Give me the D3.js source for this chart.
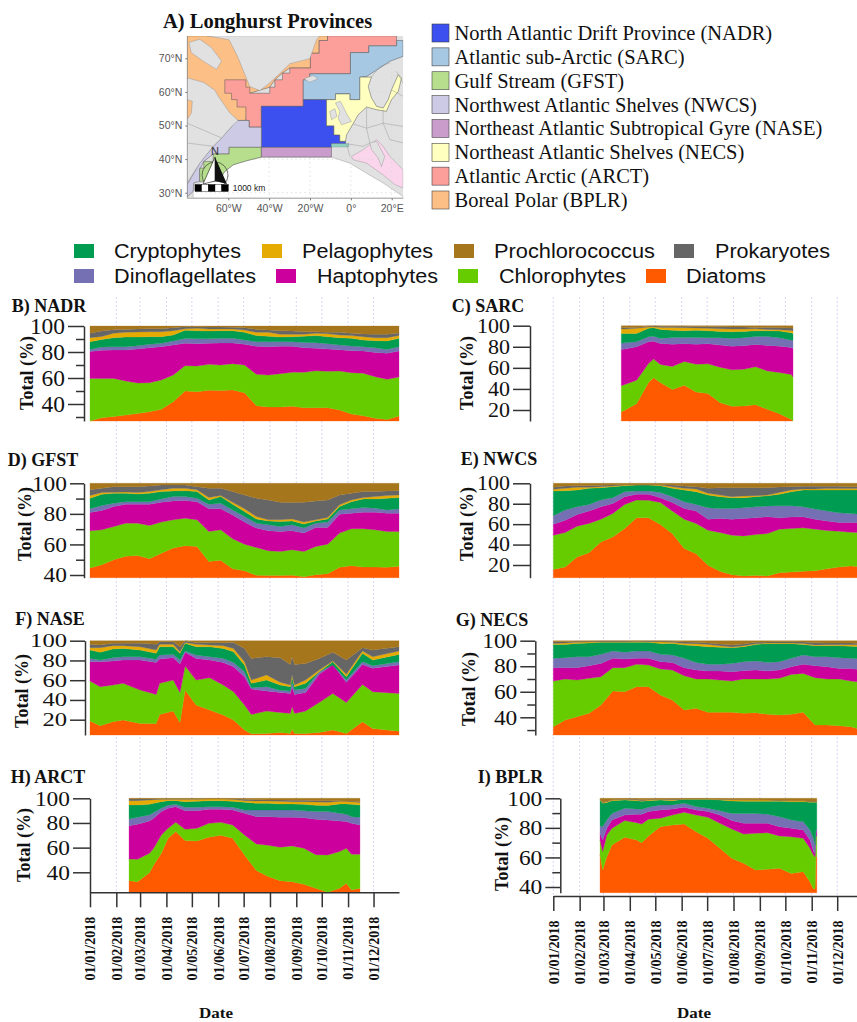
<!DOCTYPE html>
<html>
<head>
<meta charset="utf-8">
<script src="https://cdn.jsdelivr.net/npm/d3@7"></script>
<style>
  html, body { margin: 0; padding: 0; background: #fff; overflow: hidden; }
  svg { display: block; }
</style>
</head>
<body>
<div id="chart"></div>
<script>
// --------------------------------------
//  Data
//  Each array is the upper edge of a stacked band, in % total
// --------------------------------------

const groupNames = ["Diatoms", "Chlorophytes", "Haptophytes", "Dinoflagellates", "Cryptophytes", "Pelagophytes", "Prokaryotes", "Prochlorococcus"];
const groupColors = ["#ff5a00", "#66cc00", "#cc009c", "#7570b3", "#009c52", "#e6ab02", "#666666", "#a6761d"];

const monthStarts = [0, 1, 2, 3, 4, 5, 6, 7, 8, 9, 10, 11];

// days since 1 Jan 2018
const fortnightDays = [0, 14, 28, 42, 56, 70, 84, 98, 112, 126, 140, 154, 168, 182, 196, 210, 224, 238, 252, 266, 280, 294, 308, 322, 336, 350, 364];
const sarcDays = [80, 84, 98, 112, 118, 126, 140, 154, 168, 182, 196, 210, 224, 238, 252, 266, 280, 282];
const naseDays = [0, 12, 27, 39, 59, 78, 82, 98, 106, 112, 125, 141, 157, 169, 182, 190, 208, 224, 236, 238, 241, 254, 270, 286, 302, 321, 333, 364];
const arctDays = [46, 56, 70, 75, 84, 92, 101, 112, 126, 140, 154, 168, 182, 196, 210, 224, 238, 252, 266, 280, 294, 302, 308, 318];
const bplrDays = [55, 58, 63, 69, 84, 98, 104, 112, 126, 140, 154, 168, 182, 196, 210, 224, 238, 252, 266, 280, 294, 302, 306, 308, 309, 310];

const nadrDiatoms = [26.9, 29.5, 30.3, 31.5, 32.6, 34.1, 35.9, 41.8, 50, 49.5, 50.5, 50.3, 50.8, 48.7, 38.7, 37.7, 37.7, 38.2, 37.2, 37.2, 37.2, 35.4, 32.3, 31, 29, 28, 30.8];
const nadrChloro = [59.7, 59.7, 59.7, 57.7, 56.2, 56.4, 58.5, 62.3, 69.5, 69.2, 70.5, 70, 71, 70, 62.8, 62.3, 63.3, 64.4, 64.4, 65.6, 65.1, 65.4, 64.1, 63.6, 61, 59, 60.8];
const nadrHapto = [80.3, 81.3, 81.5, 81.5, 82.3, 83.3, 84.1, 85.4, 86.7, 86.4, 86.7, 86.9, 86.9, 85.9, 84.4, 84.1, 84.4, 84.4, 83.3, 82.8, 82.3, 81.8, 81, 80.8, 79.7, 79, 80.8];
const nadrDino = [82, 83.8, 84.1, 84.1, 84.9, 85.9, 86.7, 88.5, 90.3, 90.1, 90.1, 90.5, 90.5, 89.2, 87.9, 87.9, 87.9, 87.9, 87.4, 87.2, 86.4, 85.4, 84.6, 84.1, 83.3, 82, 84.1];
const nadrCrypto = [87.9, 89.7, 91, 91.5, 91.5, 91.8, 91.8, 93.1, 96.7, 96.4, 96.2, 96.4, 96.4, 95.1, 92.6, 92.1, 91.5, 91.8, 92.1, 92.6, 91.8, 91, 90.5, 89.2, 88.7, 88.5, 90.5];
const nadrPelago = [91, 92, 94.4, 95.1, 95.4, 95.6, 95.6, 96.4, 97.9, 98.2, 97.7, 97.7, 97.7, 96.9, 95.1, 95.1, 93.6, 93.6, 93.6, 94.4, 94.1, 93.1, 92.6, 91.8, 91, 91, 92.6];
const nadrProk = [94.4, 96.2, 97.2, 97.4, 97.7, 97.9, 97.9, 98.7, 99.5, 99.5, 99.2, 99.2, 99, 98.7, 97.4, 96.9, 96.4, 96.2, 95.6, 95.6, 95.1, 95.1, 94.4, 93.8, 93.6, 93.6, 94.6];

const sarcDiatoms = [18.1, 19.7, 26, 46, 50.5, 46, 39.4, 43.5, 37.1, 35.6, 27, 23.5, 23.8, 25.1, 20.6, 16.5, 11.1, 9.8];
const sarcChloro = [42.9, 44.1, 48.3, 64.1, 68.3, 63.2, 61.3, 66, 63.5, 63.8, 60.6, 58.1, 58.7, 61, 57.1, 55.6, 53.7, 51.4];
const sarcHapto = [77.5, 77.8, 80, 84.8, 85.2, 83.2, 82.5, 82.9, 82.5, 82.9, 81.6, 80.6, 81, 82.2, 81.3, 80.6, 79.4, 78.4];
const sarcDino = [83.2, 83.8, 84.8, 89.5, 90, 87.9, 88.9, 88.9, 88.9, 88.6, 88.6, 87.9, 88.6, 89.8, 89.8, 88.6, 86.3, 86.3];
const sarcCrypto = [92.7, 92.7, 92.7, 97.5, 98.1, 96.5, 95.6, 95.2, 95.6, 95.2, 94.6, 94.3, 94.6, 95.2, 95.2, 94.9, 93.3, 92.7];
const sarcPelago = [96.8, 96.8, 97.5, 98.7, 98.9, 98.4, 98.4, 98.1, 97.8, 97.5, 97, 96.8, 96.8, 97, 96.5, 96.2, 95.5, 95];
const sarcProk = [98.1, 98.1, 98.4, 99.5, 99.6, 99.4, 99.4, 99.4, 99.2, 99, 98.9, 98.7, 98.7, 98.4, 98.4, 98.1, 97.8, 97.5];

const gfstDiatoms = [44.6, 46.7, 50, 52.2, 52.8, 50.7, 54.3, 57.6, 59.1, 58.7, 48.9, 49.6, 44.1, 42.8, 39.8, 39.6, 39.6, 39.8, 38.9, 40.2, 40.9, 45, 46.1, 45.2, 45.2, 45, 45.7];
const gfstChloro = [68.9, 69.6, 71.7, 73.9, 73.9, 72.4, 74.6, 76.1, 77.2, 76.1, 68.5, 69.6, 63.7, 60.2, 58, 55.9, 55.4, 56.5, 55.4, 58.7, 60.2, 67.4, 70.2, 70.2, 69.6, 68.5, 68.5];
const gfstHapto = [80.9, 82.2, 84.8, 86.3, 86.3, 86.3, 87.6, 88.5, 88.7, 88, 83.3, 83.3, 79.3, 74.6, 70.7, 68.9, 68.5, 68.9, 67.4, 71.1, 71.1, 79.8, 80.4, 81.1, 81.1, 80.4, 80.4];
const gfstDino = [83.3, 85.4, 87, 88, 88, 88, 89.8, 91.3, 91.3, 90.2, 86.3, 87, 82.6, 78.3, 73.9, 72.8, 71.7, 72.8, 70.7, 73.9, 74.6, 82.6, 83.3, 84.1, 83.7, 82.6, 83.3];
const gfstCrypto = [90.2, 92.8, 93.5, 93.5, 93, 93.5, 94.6, 95, 95.2, 94.6, 89.1, 91.3, 86.3, 81.5, 76.7, 75.4, 75, 75.4, 73.3, 75.4, 76.7, 84.8, 88, 89.8, 89.8, 90.2, 90.7];
const gfstPelago = [92, 93.9, 94.1, 94.3, 93.9, 94.6, 95.7, 96.7, 96.7, 95.7, 90.7, 92, 87.6, 83.3, 78.3, 76.1, 76.1, 76.7, 74.6, 76.1, 77.6, 85.9, 89.1, 90.7, 91.3, 92, 92.4];
const gfstProk = [95.7, 96.7, 97.8, 97.8, 97.8, 98.3, 98.9, 98.9, 98.9, 97.8, 96.7, 96.7, 94.6, 92.4, 90.2, 89.1, 87.6, 87.4, 87.6, 88.5, 89.1, 92.4, 93.5, 94.6, 94.6, 95, 95.2];

const nwcsDiatoms = [15.7, 18, 27.9, 32.1, 42.6, 47.5, 55.7, 66.2, 66.2, 59.7, 50.8, 36.1, 31.1, 19.7, 13.8, 10.5, 9.2, 9.8, 9.2, 12.5, 13.1, 13.8, 14.4, 16.4, 18, 19, 18];
const nwcsChloro = [49.2, 51.8, 58, 60.7, 64.9, 70.5, 79.3, 83.6, 83.3, 81.3, 72.8, 64.9, 60.7, 54.1, 51.8, 49.2, 48.5, 49.8, 50.8, 55.1, 55.7, 56.4, 55.1, 53.8, 53.1, 52.1, 51.8];
const nwcsHapto = [60, 63.9, 69.5, 72.8, 77, 80.3, 86.9, 89.2, 89.2, 85.9, 81.3, 75.4, 72.8, 64.9, 65.6, 64.9, 65.6, 66.2, 67.2, 66.2, 66.9, 67.2, 64.9, 63, 61.6, 61.6, 61.3];
const nwcsDino = [68.2, 73.8, 77, 79.3, 83.6, 85.9, 91.8, 92.5, 92.5, 91.1, 86.9, 82, 79.3, 76.1, 75.4, 75.4, 76.1, 77, 77.7, 78, 78, 77, 74.8, 72.8, 71.1, 70.5, 69.5];
const nwcsCrypto = [92.5, 92.8, 93.4, 95.1, 95.7, 96.7, 97.7, 98.4, 98.4, 97.7, 95.1, 93.4, 91.8, 88.5, 86.9, 85.9, 85.9, 86.9, 87.9, 89.2, 91.8, 93.4, 93.4, 93.4, 93.4, 93.4, 93.4];
const nwcsPelago = [94.1, 95.1, 96.1, 96.1, 96.7, 97.4, 98.4, 98.4, 98.4, 98.4, 96.7, 95.1, 94.4, 90.2, 88.5, 86.9, 87.5, 87.9, 88.5, 91.1, 93.4, 94.4, 94.4, 94.8, 94.8, 94.8, 94.8];
const nwcsProk = [96.1, 97.4, 97.7, 97.7, 98, 98.4, 98.7, 98.7, 98.7, 98.7, 98.4, 97.4, 96.7, 95.1, 95.7, 95.7, 95.7, 95.7, 95.7, 96.4, 96.7, 97, 97, 97, 97, 96.7, 96.7];

const naseDiatoms = [18.6, 13.9, 17.9, 19.6, 16.2, 16.2, 25.3, 28.7, 17.2, 50, 34.8, 29.7, 24.7, 19.6, 9.5, 5.7, 6.1, 7.1, 6.1, 10.5, 6.1, 6.1, 7.1, 9.5, 6.1, 17.9, 11.1, 8.4];
const naseChloro = [59.1, 53.4, 55.1, 56.8, 50, 45.6, 56.8, 60.1, 47.6, 74.3, 60.1, 62.5, 55.1, 48.3, 34.8, 25.3, 28.7, 27.4, 26.4, 33.1, 26.4, 28.7, 37.5, 46.6, 37.5, 55.7, 48.3, 46.6];
const naseHapto = [78.7, 78.7, 79.4, 80.4, 80.4, 78, 81.4, 82.8, 76.4, 88.2, 82.1, 80.4, 78, 73.6, 63.5, 51, 49, 47.6, 46.6, 53.4, 45.6, 47.6, 65.9, 76, 57.8, 76, 72, 75.3];
const naseDino = [82.1, 80.4, 82.8, 83.8, 83.8, 81.1, 85.5, 86.1, 80.4, 89.5, 85.5, 83.8, 82.1, 78, 68.6, 52.4, 53.4, 49.7, 49, 57.8, 50, 51.7, 68.6, 75.3, 60.1, 78.7, 74.7, 78.7];
const naseCrypto = [90.5, 88.2, 91.6, 92.2, 90.5, 87.2, 93.9, 93.9, 87.2, 97.3, 93.9, 93.9, 92.2, 88.9, 75.3, 56.8, 60.1, 55.1, 53.4, 63.5, 53.4, 56.8, 68.6, 78.7, 63.5, 87.2, 80.4, 86.1];
const nasePelago = [92.9, 92.9, 94.9, 94.9, 93.9, 90.5, 96.3, 96.3, 88.9, 98.3, 96.3, 95.6, 94.9, 92.2, 78.7, 60.1, 65.2, 57.8, 55.1, 65.2, 55.1, 60.1, 70.3, 79.4, 65.9, 89.5, 83.8, 89.5];
const naseProk = [96.3, 95.6, 97.3, 97.3, 97.3, 96.3, 99, 99, 93.9, 99.7, 98.3, 98, 98, 98.3, 92.2, 82.1, 83.8, 82.8, 76, 83.8, 76, 77, 82.1, 88.2, 80.4, 92.9, 90.5, 93.9];

const necsDiatoms = [32.6, 37.9, 40.5, 43.1, 49.6, 60.6, 60.1, 64, 64, 57.4, 53.5, 45.7, 47, 43.9, 43.9, 43.9, 43.1, 43.6, 42.3, 41.8, 42.3, 43.9, 33.9, 33.9, 33.4, 32.6, 30];
const necsChloro = [68.4, 70, 69.2, 70.5, 71.8, 78.9, 78.9, 81.5, 80.9, 77.8, 77, 72.6, 70, 70, 69.2, 68.4, 70, 70, 70, 70.5, 73.6, 74.4, 71, 70, 70, 68.4, 67.4];
const necsHapto = [78.9, 78.9, 78.9, 80.4, 82.2, 86.2, 85.6, 86.2, 86.2, 83.6, 83, 78.9, 77, 76.2, 76.2, 75.7, 76.5, 77, 76.2, 77, 79.6, 81.5, 80.4, 79.6, 78.3, 78.3, 77];
const necsDino = [86.2, 86.7, 87.5, 87.5, 89.3, 91.9, 90.9, 91.9, 91.9, 89.3, 88.8, 86.2, 83, 81.5, 81.5, 82.2, 83.6, 84.1, 83, 83.6, 86.2, 88.8, 87.5, 87.5, 86.7, 86.2, 85.6];
const necsCrypto = [97.1, 97.1, 97.9, 98.2, 98.7, 98.7, 98.7, 98.7, 98.7, 97.9, 97.9, 96.6, 96.1, 95.3, 94.8, 94.5, 95.3, 97.1, 97.7, 97.7, 97.7, 97.1, 96.1, 96.1, 96.1, 95.6, 95.3];
const necsPelago = [97.9, 98.2, 98.7, 99, 99.2, 99.2, 99.2, 99.5, 99.2, 99.2, 98.7, 97.9, 97.7, 97.1, 96.1, 95, 96.1, 97.7, 98.2, 98.2, 98.2, 97.9, 96.6, 96.9, 96.9, 96.9, 96.6];
const necsProk = [99.2, 99.2, 99.5, 99.5, 99.7, 99.7, 99.7, 99.7, 99.7, 99.7, 99.5, 99, 98.7, 98.2, 97.4, 96.6, 97.4, 98.7, 99, 99.2, 99.2, 99, 98.4, 98.2, 98.2, 98.2, 98];

const arctDiatoms = [33.2, 32.4, 39.7, 45.9, 55.4, 67.6, 73, 65.7, 65.4, 68.4, 70, 67.6, 54.1, 41.4, 36.5, 33.2, 32.4, 30.3, 27, 23.8, 27, 31.1, 25.7, 27];
const arctChloro = [50.8, 50.5, 55.4, 59.5, 70.3, 75.7, 80.5, 74.9, 75.7, 79.7, 80.5, 78.4, 70.3, 63, 61.9, 60.3, 61.4, 59.5, 54.3, 54.1, 56.8, 59.5, 54.6, 54.6];
const arctHapto = [77.8, 78.9, 81.6, 83.8, 89.2, 91.9, 93.2, 90, 90, 91.1, 91.1, 90.5, 87.8, 85.1, 85.1, 84.6, 84.6, 84.3, 83, 82.4, 81.6, 81.1, 79.7, 78.4];
const arctDino = [83.2, 84.6, 86.5, 88.4, 91.9, 94.3, 95.1, 92.7, 92.7, 93.2, 93.2, 92.7, 90.5, 90.5, 90.5, 90.5, 90.5, 90, 89.2, 89.2, 87.8, 87, 85.1, 84.6];
const arctCrypto = [94.6, 94.6, 95.1, 95.9, 97.3, 98.1, 98.1, 97.3, 97.6, 98.1, 98.1, 97.6, 96.8, 95.9, 95.9, 95.4, 95.4, 95.1, 94.3, 94.1, 95.4, 95.4, 95.1, 94.6];
const arctPelago = [98.1, 98.1, 98.6, 98.9, 99.2, 99.2, 99.2, 99.2, 99.2, 99.5, 99.5, 99.2, 98.1, 97.8, 97.8, 97.6, 97.3, 97.3, 97, 96.8, 97.6, 97.6, 97.3, 96.5];
const arctProk = [99.5, 99.5, 99.5, 99.5, 99.7, 99.7, 99.7, 99.7, 99.7, 99.7, 99.7, 99.5, 99.2, 98.9, 98.6, 98.6, 98.4, 98.4, 98.1, 98.1, 98.1, 97.8, 97.8, 97.3];

const bplrDiatoms = [62.1, 51.5, 60.5, 68.4, 73.6, 71.8, 70, 74.5, 80.8, 81.9, 82.6, 77.4, 72.9, 66.2, 59.4, 56, 51.5, 52, 52.6, 49.2, 50.3, 43.6, 38.6, 39, 60.5, 60.5];
const bplrChloro = [71.8, 63.9, 75.2, 79.7, 84.9, 83.5, 82.6, 85.8, 86.5, 88.7, 90.5, 88.7, 87.1, 83.1, 79.2, 75.8, 76.3, 76.7, 74.5, 74, 72.9, 66.2, 61.6, 60.5, 74.5, 74.5];
const bplrHapto = [76.3, 71.8, 79.7, 85.3, 88.7, 89.2, 89.2, 91, 92.1, 92.8, 93.9, 92.1, 91, 88.7, 84.9, 83.1, 83.1, 83.1, 80.8, 79.7, 78.6, 71.8, 64.6, 62.3, 76.3, 78.6];
const bplrDino = [81.3, 80.8, 85.3, 89.8, 93.2, 92.8, 92.6, 93.9, 95.5, 95.5, 96.6, 94.4, 93.2, 91.6, 89.8, 89.8, 89.8, 89.2, 87.6, 85.3, 84.2, 78.6, 72.9, 68.4, 78.6, 79.2];
const bplrCrypto = [98.9, 96.6, 97.1, 98.4, 98.9, 98.4, 98, 98.4, 98.9, 98.4, 99.3, 99.3, 99.3, 98.9, 98.2, 98, 98, 98, 98, 97.7, 97.7, 97.3, 97.3, 97.3, 97.3, 97.3];
const bplrPelago = [99.3, 97.1, 97.7, 98.9, 99.3, 98.9, 98.4, 98.9, 99.3, 98.9, 99.5, 99.5, 99.5, 99.3, 98.9, 98.9, 98.9, 98.9, 98.4, 98.4, 98.4, 97.7, 97.7, 97.7, 97.7, 97.7];
const bplrProk = [99.6, 97.5, 98, 99.1, 99.6, 99.3, 99, 99.2, 99.6, 99.4, 99.7, 99.7, 99.7, 99.5, 99.2, 99, 99, 98.9, 98.6, 98.4, 98.4, 98, 98, 98, 98, 98];

// Province outlines, [lon, lat]
const provinceNames = ["North Atlantic Drift Province (NADR)", "Atlantic sub-Arctic (SARC)", "Gulf Stream (GFST)", "Northwest Atlantic Shelves (NWCS)", "Northeast Atlantic Subtropical Gyre (NASE)", "Northeast Atlantic Shelves (NECS)", "Atlantic Arctic (ARCT)", "Boreal Polar (BPLR)"];
const provinceColors = ["#3b50ee", "#a6c8e2", "#b6de8c", "#cdcae5", "#c99ccc", "#ffffbf", "#fc9f9b", "#fcbf85"];

const nadrShape = [[-43.8, 55.7], [-23.3, 55.7], [-23.3, 57.7], [-11.9, 57.7], [-11.9, 49.9], [-8.3, 49.9], [-8.3, 47.2], [-5.4, 47.2], [-5.4, 45.3], [-2.6, 45.3], [-2.6, 44.6], [-9.5, 44.6], [-9.5, 43.5], [-43.8, 43.5]];
const sarcShape = [[-23.3, 63.6], [-20.1, 63.6], [-20.1, 65.4], [-0.2, 65.4], [-0.2, 71.7], [8.8, 71.7], [8.8, 73.7], [22.4, 73.7], [22.4, 75.3], [25.6, 75.3], [25.6, 70.6], [19.1, 69.1], [14.2, 67.1], [7.7, 64.6], [4.4, 64.4], [4.4, 57.7], [-0.5, 57.7], [-0.5, 59.4], [-7.5, 59.4], [-7.5, 57.7], [-23.3, 57.7]];
const gfstShape = [[-59.6, 43.5], [-43.8, 43.5], [-43.8, 40.6], [-51.1, 39.5], [-57.6, 38.3], [-61.7, 36.3], [-65, 33.4], [-74, 33.4], [-74, 37.3], [-72, 37.3], [-72, 39.3], [-67.4, 39.3], [-67.4, 41.5], [-59.6, 41.5]];
const nwcsShape = [[-56.8, 51.5], [-49.8, 51.5], [-49.8, 49.5], [-43.8, 49.5], [-43.8, 43.5], [-59.6, 43.5], [-59.6, 41.5], [-67.4, 41.5], [-72, 39.3], [-74, 36.8], [-74, 33.4], [-76.9, 32.9], [-77.2, 30.4], [-80.2, 28.7], [-80.2, 32.4], [-74, 38.8], [-67.4, 43.8], [-63.3, 46.3], [-58.4, 49.7]];
const naseShape = [[-43.8, 43.5], [-9.5, 43.5], [-9.5, 40.6], [-43.8, 40.6]];
const necsShape = [[-11.9, 57.7], [-7.5, 57.7], [-7.5, 59.4], [-0.5, 59.4], [-0.5, 57.7], [4.4, 57.7], [4.4, 64.4], [10.1, 64.4], [8.5, 61.6], [10.1, 58.2], [12.6, 55.7], [15.8, 55.2], [18.3, 57.7], [19.9, 60.6], [23.2, 65.1], [24.8, 64.1], [23.2, 60.1], [19.9, 57.7], [17.4, 54.2], [12.6, 54.7], [7.7, 55.5], [3.6, 53.2], [1.1, 50.5], [-2.1, 47.2], [-2.6, 45.3], [-5.4, 45.3], [-5.4, 47.2], [-8.3, 47.2], [-8.3, 49.9], [-11.9, 49.9]];
const arctShape = [[-61.7, 63.6], [-51.4, 63.6], [-51.4, 61.4], [-49.5, 61.4], [-49.5, 59.6], [-39.7, 59.6], [-39.7, 61.4], [-37.2, 61.4], [-37.2, 63.6], [-33.5, 63.6], [-33.5, 65.6], [-29.9, 65.6], [-29.9, 67.1], [-19.8, 67.1], [-19.8, 71.5], [-15.5, 71.5], [-15.5, 75.3], [-11.4, 75.3], [-11.4, 76.7], [22.4, 76.7], [22.4, 73.7], [8.8, 73.7], [8.8, 71.7], [-0.2, 71.7], [-0.2, 65.4], [-20.1, 65.4], [-20.1, 63.6], [-23.3, 63.6], [-23.3, 55.7], [-43.8, 55.7], [-43.8, 49.5], [-49.8, 49.5], [-49.8, 51.5], [-51.4, 51.5], [-51.4, 55.5], [-55.7, 55.5], [-55.7, 57.7], [-58.4, 57.7], [-58.4, 59.6], [-61.7, 59.6]];
const bplrShape = [[-80.2, 76.7], [-11.4, 76.7], [-11.4, 75.3], [-15.5, 75.3], [-15.5, 71.5], [-19.8, 71.5], [-19.8, 67.1], [-29.9, 67.1], [-33.5, 65.6], [-37.2, 63.6], [-39.7, 61.4], [-49.5, 59.6], [-51.4, 51.5], [-55.7, 51.5], [-80.2, 63.6]];
const shapes = [nadrShape, sarcShape, gfstShape, nwcsShape, naseShape, necsShape, arctShape, bplrShape];

const whiteSea = [[-65, 33.4], [-61.7, 36.3], [-57.6, 38.3], [-51.1, 39.5], [-43.8, 40.6], [-9.5, 40.6], [-0.5, 38.8], [7.7, 35.8], [15.8, 32.9], [25.6, 28.9], [25.6, 28.4], [-77.2, 28.4], [-77.2, 30.4], [-74, 33]];
const medSea = [[0.3, 40.8], [6, 42.8], [12.6, 45.8], [15.8, 43.8], [19.1, 40.8], [25.6, 36.8], [25.6, 31.4], [21.6, 32.4], [15.8, 35.3], [7.7, 38.8], [1.1, 39.8]];
const biscayStrip = [[-9.5, 44.6], [-1, 44.6], [-1, 43.6], [-9.5, 43.6]];
const greenland = [[-70.4, 76.7], [-59.6, 75.5], [-55.5, 70.6], [-52.5, 66.1], [-49.5, 61.6], [-44.6, 60.4], [-40.5, 62.3], [-34, 65.9], [-29.9, 68.4], [-20.1, 69.9], [-16.8, 75.5], [-15.2, 76.7]];
const canada = [[-80.2, 64.2], [-72, 62.8], [-66.6, 60.5], [-65, 58.8], [-59.3, 53.8], [-55.2, 51.5], [-58.4, 49.7], [-63.3, 46.3], [-67.4, 43.8], [-74, 38.8], [-80.2, 32.9]];
const baffin = [[-79.2, 74.7], [-74, 75.7], [-68.3, 73.2], [-63.3, 69.2], [-65.8, 66.7], [-72.4, 69.2], [-78.2, 71.7]];
const hudsonBay = [[-80.2, 57.7], [-77.6, 57.2], [-78.1, 53.7], [-80.2, 51.7]];
const iceland = [[-23, 63.9], [-18.5, 64.9], [-16, 63.9], [-20.1, 62.9]];
const britain = [[-7.5, 56.7], [-5.1, 57.2], [-1.8, 53.2], [0.3, 51.2], [-4.6, 50.2], [-6.2, 52.2], [-5.4, 54.2]];
const ireland = [[-10.3, 54.2], [-7.8, 55], [-6.8, 52.7], [-9.5, 51.7]];
const italy = [[9.3, 44.8], [12.6, 45.3], [16.6, 40.8], [15, 37.8], [13.4, 40.3], [10.1, 42.8]];
const landShapes = [greenland, canada, baffin, iceland, britain, ireland, italy];
const borderLines = [
  [[1.1, 50.5], [7.7, 49.2], [9.3, 44.8]],
  [[7.7, 55.5], [7.7, 49.2]],
  [[7.7, 49.2], [15.8, 50.7], [25.6, 49.7]],
  [[15.8, 54.7], [15.8, 50.7], [19.1, 45.8], [25.6, 44.8]],
  [[-2.1, 44.6], [6, 43.8], [9.3, 44.8]],
  [[-2.1, 44.6], [-0.5, 40.8]],
  [[10.1, 64.4], [14.2, 67.6], [19.1, 68.6]],
  [[19.9, 60.6], [25.6, 58.7]],
  [[22.4, 66.1], [25.6, 62.6]],
  [[-80.2, 44.8], [-67.4, 43.8]],
  [[-80.2, 50.7], [-63.3, 46.3]]
];

const lonTicks = [-60, -40, -20, 0, 20];
const latTicks = [30, 40, 50, 60, 70];

// --------------------------------------
//  Panels
// --------------------------------------

const leftRange = [90, 399];
const rightRange = [553.3, 862.7];

// the source figure squashed each panel differently, so tick text differs per panel
const panels = [
  { label: "B) NADR", labelX: 49, labelY: 306, titleX: 27, titleY: 373, col: "left", axisX: 84, tickLen: 16, tickFont: 23, digitW: 11.7, y100: 326, yAt: 404, at: 40, bottom: 421, major: [40, 60, 80, 100], minor: [30, 50, 70, 90], days: fortnightDays, edges: [nadrDiatoms, nadrChloro, nadrHapto, nadrDino, nadrCrypto, nadrPelago, nadrProk] },
  { label: "C) SARC", labelX: 488, labelY: 306, titleX: 467, titleY: 373, col: "right", axisX: 530, tickLen: 17, tickFont: 20, digitW: 11, y100: 325.7, yAt: 410, at: 20, bottom: 421, major: [20, 40, 60, 80, 100], minor: [], days: sarcDays, edges: [sarcDiatoms, sarcChloro, sarcHapto, sarcDino, sarcCrypto, sarcPelago, sarcProk] },
  { label: "D) GFST", labelX: 43, labelY: 460, titleX: 25, titleY: 524, col: "left", axisX: 84, tickLen: 14, tickFont: 21, digitW: 11.7, y100: 483.3, yAt: 575, at: 40, bottom: 577.7, major: [40, 60, 80, 100], minor: [50, 70, 90], days: fortnightDays, edges: [gfstDiatoms, gfstChloro, gfstHapto, gfstDino, gfstCrypto, gfstPelago, gfstProk] },
  { label: "E) NWCS", labelX: 499, labelY: 459, titleX: 467, titleY: 524, col: "right", axisX: 530, tickLen: 17, tickFont: 20, digitW: 11, y100: 483.3, yAt: 565, at: 20, bottom: 577.7, major: [20, 40, 60, 80, 100], minor: [], days: fortnightDays, edges: [nwcsDiatoms, nwcsChloro, nwcsHapto, nwcsDino, nwcsCrypto, nwcsPelago, nwcsProk] },
  { label: "F) NASE", labelX: 50, labelY: 619, titleX: 22, titleY: 691, col: "left", axisX: 85, tickLen: 15, tickFont: 18.5, digitW: 12.3, y100: 640.7, yAt: 719.7, at: 20, bottom: 735, major: [20, 40, 60, 80, 100], minor: [], days: naseDays, edges: [naseDiatoms, naseChloro, naseHapto, naseDino, naseCrypto, nasePelago, naseProk] },
  { label: "G) NECS", labelX: 492, labelY: 620, titleX: 469, titleY: 689, col: "right", axisX: 535.3, tickLen: 15, tickFont: 21, digitW: 11.7, y100: 640.7, yAt: 717.3, at: 40, bottom: 735, major: [40, 60, 80, 100], minor: [30, 50, 70, 90], days: fortnightDays, edges: [necsDiatoms, necsChloro, necsHapto, necsDino, necsCrypto, necsPelago, necsProk] },
  { label: "H) ARCT", labelX: 48, labelY: 777, titleX: 24, titleY: 845, col: "left", axisX: 90, tickLen: 17, tickFont: 21, digitW: 11.7, y100: 798.3, yAt: 872.3, at: 40, bottom: 892.3, major: [40, 60, 80, 100], minor: [], days: arctDays, edges: [arctDiatoms, arctChloro, arctHapto, arctDino, arctCrypto, arctPelago, arctProk] },
  { label: "I) BPLR", labelX: 510.5, labelY: 777, titleX: 502, titleY: 854, col: "right", axisX: 560.3, tickLen: 15, tickFont: 21.5, digitW: 11.7, y100: 798.3, yAt: 887, at: 40, bottom: 892.7, major: [40, 60, 80, 100], minor: [50, 70, 90], days: bplrDays, edges: [bplrDiatoms, bplrChloro, bplrHapto, bplrDino, bplrCrypto, bplrPelago, bplrProk] }
];

// --------------------------------------
//  Canvas
// --------------------------------------

const width = 857;
const height = 1022;
const serif = "'Liberation Serif', serif";
const sans = "'Liberation Sans', sans-serif";

const svg = d3.select("#chart")
  .append("svg")
  .attr("width", width)
  .attr("height", height)
  .attr("viewBox", [0, 0, width, height])
  .style("background", "#fff");

const yearStart = new Date(Date.UTC(2018, 0, 1));
const yearEnd = new Date(Date.UTC(2018, 11, 31));
const monthDates = monthStarts.map(m => new Date(Date.UTC(2018, m, 1)));

const xLeft = d3.scaleUtc().domain([yearStart, yearEnd]).range(leftRange);
const xRight = d3.scaleUtc().domain([yearStart, yearEnd]).range(rightRange);

// --------------------------------------
//  Dotted month guides behind the panels
// --------------------------------------

const guides = svg.append("g");
guides.selectAll("line.left")
  .data(monthDates.slice(1))
  .join("line")
    .attr("class", "left")
    .attr("x1", d => xLeft(d))
    .attr("x2", d => xLeft(d))
    .attr("y1", 297)
    .attr("y2", 892);
guides.selectAll("line.right")
  .data(monthDates)
  .join("line")
    .attr("class", "right")
    .attr("x1", d => xRight(d))
    .attr("x2", d => xRight(d))
    .attr("y1", 297)
    .attr("y2", 896);
guides.selectAll("line")
  .attr("stroke", "#d6d6f8")
  .attr("stroke-width", 1)
  .attr("stroke-dasharray", "2 2");

// --------------------------------------
//  Stacked panels
// --------------------------------------

panels.forEach(p => {
  const x = p.col === "left" ? xLeft : xRight;
  const pxPerUnit = (p.yAt - p.y100) / (100 - p.at);
  const y = d3.scaleLinear()
    .domain([100 - (p.bottom - p.y100) / pxPerUnit, 100])
    .range([p.bottom, p.y100]);

  const tops = p.edges.concat([p.days.map(() => 100)]);

  tops.forEach((top, k) => {
    const area = d3.area()
      .x((d, i) => x(d3.utcDay.offset(yearStart, p.days[i])))
      .y0((d, i) => k === 0 ? y.range()[0] : y(tops[k - 1][i]))
      .y1(d => y(d));
    svg.append("path")
      .datum(top)
      .attr("fill", groupColors[k])
      .attr("stroke", groupColors[k])
      .attr("stroke-width", 0.3)
      .attr("d", area);
  });

  const axisG = svg.append("g")
    .attr("transform", `translate(${p.axisX},0)`)
    .call(d3.axisLeft(y).tickValues(p.major).tickSize(p.tickLen).tickSizeOuter(0).tickPadding(3));
  axisG.selectAll("text")
    .attr("font-family", serif)
    .attr("font-size", p.tickFont)
    .attr("fill", "#111")
    .attr("textLength", d => String(d).length * p.digitW)
    .attr("lengthAdjust", "spacingAndGlyphs");
  axisG.selectAll("line, path")
    .attr("stroke", "#333")
    .attr("stroke-width", 1.5);

  if (p.minor.length) {
    const minorG = svg.append("g")
      .attr("transform", `translate(${p.axisX},0)`)
      .call(d3.axisLeft(y).tickValues(p.minor).tickSize(8).tickSizeOuter(0).tickFormat(""));
    minorG.select("path").remove();
    minorG.selectAll("text").remove();
    minorG.selectAll("line")
      .attr("stroke", "#333")
      .attr("stroke-width", 1.5);
  }

  svg.append("text")
    .attr("transform", `translate(${p.titleX},${p.titleY}) rotate(-90)`)
    .attr("text-anchor", "middle")
    .attr("dominant-baseline", "central")
    .attr("font-family", serif)
    .attr("font-weight", "bold")
    .attr("font-size", 18)
    .attr("fill", "#111")
    .text("Total (%)");

  svg.append("text")
    .attr("x", p.labelX)
    .attr("y", p.labelY)
    .attr("text-anchor", "middle")
    .attr("dominant-baseline", "central")
    .attr("font-family", serif)
    .attr("font-weight", "bold")
    .attr("font-size", 18)
    .attr("fill", "#111")
    .text(p.label);
});

// --------------------------------------
//  Date axes under the last row
// --------------------------------------

[{ x: xLeft, y: 892.3, cx: 216 }, { x: xRight, y: 896, cx: 694 }].forEach(a => {
  const g = svg.append("g")
    .attr("transform", `translate(0,${a.y})`)
    .call(d3.axisBottom(a.x).tickValues(monthDates).tickSize(15).tickSizeOuter(0).tickFormat(d3.utcFormat("%d/%m/%Y")));
  g.selectAll("line, path")
    .attr("stroke", "#333")
    .attr("stroke-width", 1.5);
  g.selectAll("text")
    .attr("transform", "rotate(-90)")
    .attr("text-anchor", "end")
    .attr("x", -24.5)
    .attr("y", 0)
    .attr("dy", "0.35em")
    .attr("font-family", serif)
    .attr("font-weight", "bold")
    .attr("font-size", 14)
    .attr("fill", "#111");
  svg.append("text")
    .attr("x", a.cx)
    .attr("y", 1012.5)
    .attr("text-anchor", "middle")
    .attr("dominant-baseline", "central")
    .attr("font-family", serif)
    .attr("font-weight", "bold")
    .attr("font-size", 15.5)
    .attr("textLength", 34)
    .attr("lengthAdjust", "spacingAndGlyphs")
    .attr("fill", "#111")
    .text("Date");
});

// --------------------------------------
//  Group legend
// --------------------------------------

const legendRows = [
  { y: 251, name: "Cryptophytes", box: 74, text: 114, w: 127 },
  { y: 251, name: "Pelagophytes", box: 262, text: 302, w: 131 },
  { y: 251, name: "Prochlorococcus", box: 454, text: 494, w: 161 },
  { y: 251, name: "Prokaryotes", box: 674, text: 715, w: 115 },
  { y: 276, name: "Dinoflagellates", box: 74, text: 114, w: 142 },
  { y: 276, name: "Haptophytes", box: 276, text: 317, w: 121 },
  { y: 276, name: "Chlorophytes", box: 458, text: 499, w: 127 },
  { y: 276, name: "Diatoms", box: 646, text: 686, w: 80 }
];

const legend = svg.append("g");
legend.selectAll("rect")
  .data(legendRows)
  .join("rect")
    .attr("x", d => d.box)
    .attr("y", d => d.y - 7)
    .attr("width", 20)
    .attr("height", 14)
    .attr("fill", d => groupColors[groupNames.indexOf(d.name)]);
legend.selectAll("text")
  .data(legendRows)
  .join("text")
    .attr("x", d => d.text)
    .attr("y", d => d.y)
    .attr("dominant-baseline", "central")
    .attr("font-family", sans)
    .attr("font-size", 20)
    .attr("fill", "#111")
    .attr("textLength", d => d.w)
    .attr("lengthAdjust", "spacingAndGlyphs")
    .text(d => d.name);

// --------------------------------------
//  Map panel
// --------------------------------------

svg.append("text")
  .attr("x", 163)
  .attr("y", 21)
  .attr("dominant-baseline", "central")
  .attr("font-family", serif)
  .attr("font-weight", "bold")
  .attr("font-size", 20.5)
  .attr("fill", "#111")
  .text("A) Longhurst Provinces");

const lonScale = d3.scaleLinear().domain([-20, 20]).range([310, 391.7]);
const latScale = d3.scaleLinear().domain([30, 70]).range([192.7, 58.3]);
const mapLine = d3.line().x(d => lonScale(d[0])).y(d => latScale(d[1]));
const ring = d => mapLine(d) + "Z";

svg.append("clipPath").attr("id", "mapClip")
  .append("rect")
    .attr("x", 187.3).attr("y", 36).attr("width", 216).attr("height", 162.3);

const map = svg.append("g").attr("clip-path", "url(#mapClip)");

map.append("rect")
  .attr("x", 187.3).attr("y", 36).attr("width", 216).attr("height", 162.3)
  .attr("fill", "#e1e1e1");
map.append("path").attr("d", ring(whiteSea)).attr("fill", "#fff").attr("stroke", "#8a8a8a").attr("stroke-width", 0.4);
map.append("path").attr("d", ring(medSea)).attr("fill", "#fbd5ec").attr("stroke", "#8a8a8a").attr("stroke-width", 0.4);

// graticule stays under the provinces
map.selectAll("line.lon")
  .data(lonTicks)
  .join("line")
    .attr("class", "lon")
    .attr("x1", d => lonScale(d)).attr("x2", d => lonScale(d))
    .attr("y1", 36).attr("y2", 198.3)
    .attr("stroke", "#d8d8d8").attr("stroke-width", 0.8).attr("stroke-dasharray", "1.5 3");
map.selectAll("line.lat")
  .data(latTicks)
  .join("line")
    .attr("class", "lat")
    .attr("x1", 187.3).attr("x2", 403.3)
    .attr("y1", d => latScale(d)).attr("y2", d => latScale(d))
    .attr("stroke", "#d8d8d8").attr("stroke-width", 0.8).attr("stroke-dasharray", "1.5 3");

// drawing order: polar under the arctic, land on top
[7, 6, 1, 0, 3, 2, 4, 5].forEach(i => {
  map.append("path")
    .attr("d", ring(shapes[i]))
    .attr("fill", provinceColors[i])
    .attr("stroke", "#555")
    .attr("stroke-width", 0.5);
});
map.append("path").attr("d", ring(biscayStrip)).attr("fill", "#8fd3c1").attr("stroke", "#777").attr("stroke-width", 0.3);

map.selectAll("path.land")
  .data(landShapes)
  .join("path")
    .attr("class", "land")
    .attr("d", ring)
    .attr("fill", "#e1e1e1")
    .attr("stroke", "#8a8a8a")
    .attr("stroke-width", 0.4);
map.append("path").attr("d", ring(hudsonBay)).attr("fill", provinceColors[7]).attr("stroke", "#8a8a8a").attr("stroke-width", 0.4);
map.selectAll("path.border")
  .data(borderLines)
  .join("path")
    .attr("class", "border")
    .attr("d", mapLine)
    .attr("fill", "none")
    .attr("stroke", "#8a8a8a")
    .attr("stroke-width", 0.4);

// map frame and axes
const mapAxisX = svg.append("g")
  .attr("transform", "translate(0,198.3)")
  .call(d3.axisBottom(lonScale).tickValues(lonTicks).tickSize(2).tickSizeOuter(0).tickPadding(4)
    .tickFormat(d => d === 0 ? "0°" : `${Math.abs(d)}°${d < 0 ? "W" : "E"}`));
const mapAxisY = svg.append("g")
  .attr("transform", "translate(187.3,0)")
  .call(d3.axisLeft(latScale).tickValues(latTicks).tickSize(2).tickSizeOuter(0).tickPadding(3)
    .tickFormat(d => `${d}°N`));
mapAxisX.select("path").remove();
mapAxisY.select("path").remove();
svg.append("line").attr("x1", 187.3).attr("x2", 403.3).attr("y1", 198.3).attr("y2", 198.3).attr("stroke", "#777").attr("stroke-width", 0.6);
svg.append("line").attr("x1", 187.3).attr("x2", 187.3).attr("y1", 36).attr("y2", 198.3).attr("stroke", "#777").attr("stroke-width", 0.6);
[mapAxisX, mapAxisY].forEach(g => {
  g.selectAll("text").attr("font-family", sans).attr("font-size", 10.5).attr("fill", "#555");
  g.selectAll("line").attr("stroke", "#777");
});

// north arrow and scale bar
const arrow = svg.append("g");
arrow.append("circle").attr("cx", 215).attr("cy", 175).attr("r", 13).attr("fill", "none").attr("stroke", "#222").attr("stroke-width", 0.6);
arrow.append("path").attr("d", "M215,157L203,184L215,181Z").attr("fill", "#fff").attr("stroke", "#111").attr("stroke-width", 0.6);
arrow.append("path").attr("d", "M215,157L227,184L215,181Z").attr("fill", "#111");
arrow.append("text").attr("x", 215).attr("y", 151).attr("text-anchor", "middle").attr("dominant-baseline", "central")
  .attr("font-family", sans).attr("font-size", 11).attr("fill", "#333").text("N");

const barBlocks = d3.range(5);
const barX = d3.scaleLinear().domain([0, 5]).range([195, 228.3]);
arrow.selectAll("rect")
  .data(barBlocks)
  .join("rect")
    .attr("x", d => barX(d))
    .attr("y", 184.5)
    .attr("width", barX(1) - barX(0))
    .attr("height", 7)
    .attr("fill", d => d % 2 ? "#fff" : "#000")
    .attr("stroke", "#000")
    .attr("stroke-width", 0.4);
arrow.append("text").attr("x", 232.7).attr("y", 188).attr("dominant-baseline", "central")
  .attr("font-family", sans).attr("font-size", 8.5).attr("fill", "#222").text("1000 km");

// province legend
const provY = d3.scalePoint().domain(provinceNames).range([33, 200]);
const provLegend = svg.append("g");
provLegend.selectAll("rect")
  .data(provinceNames)
  .join("rect")
    .attr("x", 432)
    .attr("y", d => provY(d) - 9)
    .attr("width", 17)
    .attr("height", 18)
    .attr("fill", (d, i) => provinceColors[i])
    .attr("stroke", "#444")
    .attr("stroke-width", 0.6);
provLegend.selectAll("text")
  .data(provinceNames)
  .join("text")
    .attr("x", 454.5)
    .attr("y", d => provY(d))
    .attr("dominant-baseline", "central")
    .attr("font-family", serif)
    .attr("font-size", 20.5)
    .attr("fill", "#111")
    .text(d => d);
</script>
</body>
</html>
